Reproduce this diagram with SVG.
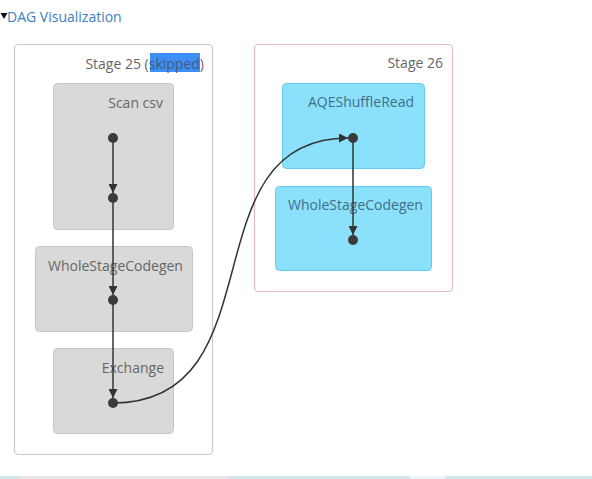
<svg xmlns="http://www.w3.org/2000/svg" width="592" height="479" viewBox="0 0 592 479">
<style>
  text { font-family: "Open Sans", "Noto Sans", "Liberation Sans", sans-serif; font-size: 14px; }
  .cluster25 { fill: #ffffff; stroke: #c9c9c9; stroke-width: 1.2; }
  .cluster26 { fill: #ffffff; stroke: #e8b9c6; stroke-width: 1.2; }
  .gnode { fill: #d9d9d9; stroke: #c6c6c6; stroke-width: 1; }
  .bnode { fill: #8be1fc; stroke: #5fcdf0; stroke-width: 1; }
  .glabel { fill: #666666; }
  .blabel { fill: #3f6f86; }
  .clabel { fill: #666666; }
  .edge { fill: none; stroke: #333; stroke-width: 1.5; }
  .dot { fill: #3b3b3b; }
</style>
<defs>
  <marker id="arrow" viewBox="0 0 10 10" refX="10" refY="5" markerWidth="9" markerHeight="9" markerUnits="userSpaceOnUse" orient="auto">
    <path d="M0,0 L10,5 L0,10 Z" fill="#333"/>
  </marker>
</defs>

<rect x="0" y="0" width="592" height="479" fill="#ffffff"/>

<g id="header">
  <path d="M0.5,13 L7.5,13 L4,19 Z" fill="#111"/>
  <text x="7" y="22" fill="#3b7fc0">DAG Visualization</text>
</g>

<g id="stage25">
  <rect class="cluster25" x="14.5" y="44.5" width="198" height="410" rx="4"/>
  <rect x="150" y="53" width="50" height="19" fill="#3b8ff5"/>
  <text class="clabel" x="204" y="69" text-anchor="end">Stage 25 (<tspan fill="#4a5a78">skipped</tspan>)</text>
</g>

<g id="stage26">
  <rect class="cluster26" x="254.5" y="44.5" width="198" height="247" rx="4"/>
  <text class="clabel" x="443" y="68" text-anchor="end">Stage 26</text>
</g>

<g id="node-scancsv">
  <rect class="gnode" x="53.5" y="83.5" width="120" height="146" rx="4"/>
  <text class="glabel" x="163" y="108" text-anchor="end">Scan csv</text>
</g>

<g id="node-wsc25">
  <rect class="gnode" x="35.5" y="246.5" width="157" height="85" rx="4"/>
  <text class="glabel" x="48" y="271">WholeStageCodegen</text>
</g>

<g id="node-exchange">
  <rect class="gnode" x="53.5" y="348.5" width="120" height="85" rx="4"/>
  <text class="glabel" x="164" y="373" text-anchor="end">Exchange</text>
</g>

<g id="node-aqe">
  <rect class="bnode" x="282.5" y="83.5" width="142" height="85" rx="4"/>
  <text class="blabel" x="414" y="107" text-anchor="end">AQEShuffleRead</text>
</g>

<g id="node-wsc26">
  <rect class="bnode" x="275.5" y="186.5" width="156" height="84" rx="4"/>
  <text class="blabel" x="288" y="210">WholeStageCodegen</text>
</g>

<g id="connectors">
  <path class="edge" d="M113,138 L113,193" marker-end="url(#arrow)"/>
  <path class="edge" d="M113,198 L113,295" marker-end="url(#arrow)"/>
  <path class="edge" d="M113,300 L113,398" marker-end="url(#arrow)"/>
  <path class="edge" d="M353,138 L353,235" marker-end="url(#arrow)"/>
  <path class="edge" d="M113,403 C280,403 186,138 348,138" marker-end="url(#arrow)"/>
</g>

<g id="dots">
  <circle class="dot" cx="113" cy="138" r="5"/>
  <circle class="dot" cx="113" cy="198" r="5"/>
  <circle class="dot" cx="113" cy="300" r="5"/>
  <circle class="dot" cx="113" cy="403" r="5"/>
  <circle class="dot" cx="353" cy="138" r="5"/>
  <circle class="dot" cx="353" cy="240" r="5"/>
</g>

<g id="bottom-strip">
  <rect x="0" y="476" width="592" height="3" fill="#d3e5ec"/>
  <rect x="20" y="476" width="210" height="3" fill="#e6e6e6"/>
  <rect x="410" y="476" width="35" height="3" fill="#eef5f8"/>
</g>
</svg>
